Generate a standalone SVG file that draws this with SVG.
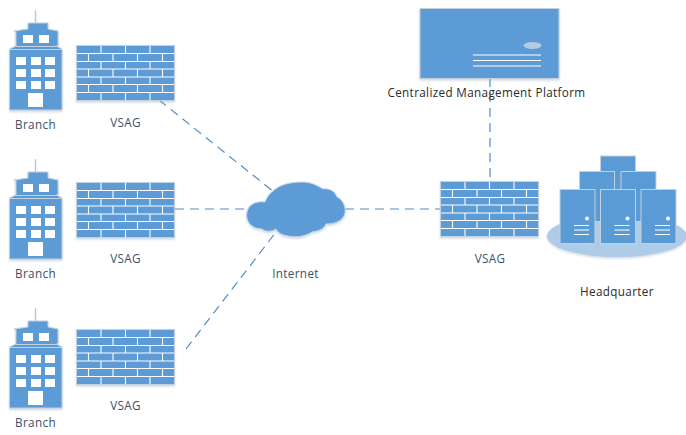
<svg xmlns="http://www.w3.org/2000/svg" width="686" height="435" viewBox="0 0 686 435">
<style>
text{font-family:"Open Sans","Liberation Sans",sans-serif;font-size:11.7px;text-anchor:middle;letter-spacing:.35px}
.lb{fill:#3b5068}.dk{fill:#2b2b2b}
.b{fill:#5b9bd5;stroke:#c4d0dc;stroke-width:1}
.w{fill:#fff}
.wl{stroke:#fff;stroke-width:1.1;fill:none}
.c{stroke:#4f8cc8;stroke-width:1.2;stroke-dasharray:9 6;fill:none}
.s{filter:url(#sh)}
</style>
<defs>
<filter id="sh" x="-10%" y="-10%" width="120%" height="125%"><feDropShadow dx="0" dy="1.500" stdDeviation="1.200" flood-color="#8fa8c0" flood-opacity=".45"/></filter>
<g id="bld">
<path d="M35.500 10V23" stroke="#b8c4d0" fill="none"/>
<path class="b" d="M28 23H48V29L58 31V46H56L62 49V110H9.500V49L16 46V31H14L28 29Z"/>
<path d="M16 46.500H56M9.500 49.500H62" stroke="#c4d0dc" fill="none"/>
<g class="w">
<rect x="23" y="35" width="10" height="8"/><rect x="39" y="35" width="10" height="8"/>
<rect x="16" y="57" width="10" height="8"/><rect x="31" y="57" width="10" height="8"/><rect x="45" y="57" width="10" height="8"/>
<rect x="16" y="69" width="10" height="8"/><rect x="31" y="69" width="10" height="8"/><rect x="45" y="69" width="10" height="8"/>
<rect x="16" y="81" width="10" height="8"/><rect x="31" y="81" width="10" height="8"/><rect x="45" y="81" width="10" height="8"/>
<rect x="28" y="93" width="15" height="14"/>
</g>
</g>
<g id="fw">
<rect class="b" x="76.500" y="45.500" width="98" height="55"/>
<path class="wl" d="M77 53.500H174M77 61.500H174M77 69H174M77 77H174M77 84.500H174M77 92.500H174"/>
<path class="wl" d="M101 46V53M125.500 46V53M150 46V53M88.500 54V61M113 54V61M137.500 54V61M162.500 54V61M101 62V69M125.500 62V69M150 62V69M88.500 69V77M113 69V77M137.500 69V77M162.500 69V77M101 77V84M125.500 77V84M150 77V84M88.500 85V92M113 85V92M137.500 85V92M162.500 85V92M101 93V100M125.500 93V100M150 93V100"/>
</g>
<g id="srv">
<rect class="b" x="0" y="0" width="35" height="54"/>
<circle class="w" cx="27" cy="29" r="2"/>
<path class="wl" d="M14 36H29M14 40.500H29M14 45H29"/>
</g>
</defs>
<g id="connectors">
<path class="c" d="M159 100L274 192"/>
<path class="c" d="M175 209H246"/>
<path class="c" d="M186 349L276 232"/>
<path class="c" d="M345 209H440"/>
<path class="c" d="M490 78V181"/>
</g>
<g id="branch1"><use href="#bld" class="s"/><text class="lb" x="35.500" y="129">Branch</text></g>
<g id="branch2"><use href="#bld" y="149" class="s"/><text class="lb" x="35.500" y="278">Branch</text></g>
<g id="branch3"><use href="#bld" y="298" class="s"/><text class="lb" x="35.500" y="427">Branch</text></g>
<g id="vsag1"><use href="#fw" class="s"/><text class="lb" x="125.500" y="127">VSAG</text></g>
<g id="vsag2"><use href="#fw" y="137" class="s"/><text class="lb" x="125.500" y="263">VSAG</text></g>
<g id="vsag3"><use href="#fw" y="284" class="s"/><text class="lb" x="125.500" y="410">VSAG</text></g>
<g id="vsag4"><use href="#fw" x="364" y="136" class="s"/><text class="lb" x="490" y="263">VSAG</text></g>
<g id="internet">
<path class="s" fill="#5b9bd5" stroke="#c9d6e3" d="M262 229C250 229 245 219 247 212C249 204 256 201 265 202C267 197 270 193 273 191C279 185 290 182 302 182C312 182 318 186 323 189C329 188 335 191 337 197C342 199 346 206 345 213C343 221 335 224 326 224C324 229 319 231 312 232C306 236 297 238 288 236C282 235 278 233 276 229C271 232 266 232 262 229Z"/>
<text class="lb" x="295.500" y="278">Internet</text>
</g>
<g id="platform">
<rect class="b s" x="420" y="8.500" width="139" height="70"/>
<ellipse cx="532.500" cy="45.500" rx="9" ry="3.500" fill="#b0cbe6"/>
<path class="wl" d="M473 55H541M473 60.500H541M473 66H541"/>
<text class="dk" x="486.500" y="97">Centralized Management Platform</text>
</g>
<g id="headquarter">
<ellipse class="s" cx="617" cy="236" rx="70" ry="21" fill="#aecbe8"/>
<rect class="b" x="600.500" y="156" width="35" height="40"/>
<rect class="b" x="579.500" y="171.500" width="35" height="50"/>
<rect class="b" x="621" y="171.500" width="35" height="50"/>
<use href="#srv" x="560" y="189.500"/>
<use href="#srv" x="600.500" y="189.500"/>
<use href="#srv" x="641" y="189.500"/>
<text class="dk" x="617" y="296">Headquarter</text>
</g>
</svg>
